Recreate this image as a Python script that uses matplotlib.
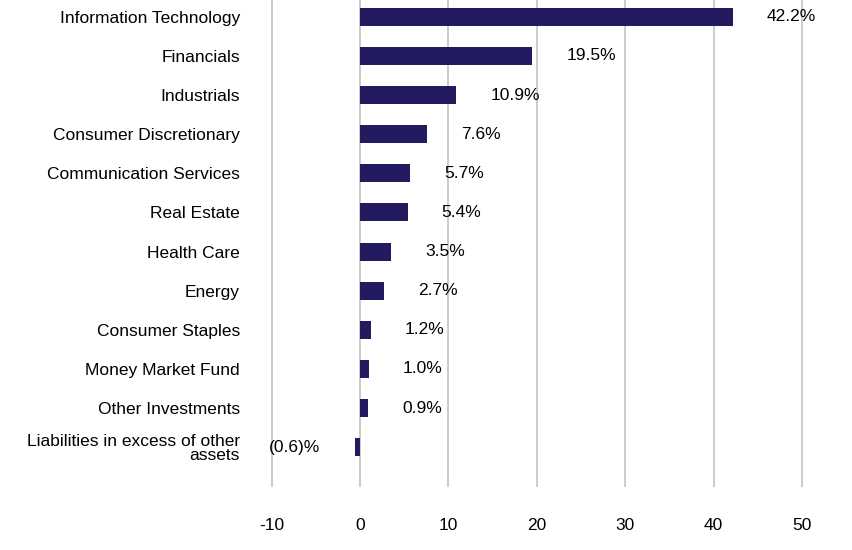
import matplotlib
matplotlib.use("Agg")
import matplotlib.pyplot as plt

categories = ["Information Technology", "Financials", "Industrials", "Consumer Discretionary",
              "Communication Services", "Real Estate", "Health Care", "Energy", "Consumer Staples",
              "Money Market Fund", "Other Investments", "Liabilities in excess of other\nassets"]
values = [42.2, 19.5, 10.9, 7.6, 5.7, 5.4, 3.5, 2.7, 1.2, 1.0, 0.9, -0.6]
labels = ["42.2%", "19.5%", "10.9%", "7.6%", "5.7%", "5.4%", "3.5%", "2.7%", "1.2%", "1.0%", "0.9%", "(0.6)%"]
xticks = [-10, 0, 10, 20, 30, 40, 50]

plt.rcParams['font.family'] = ['Liberation Sans', 'DejaVu Sans']
fig = plt.figure(figsize=(8.52, 5.5), dpi=100)
ax = fig.add_axes([0.298, 0.1145, 0.664, 0.8855])
y = list(range(len(categories)))
ax.barh(y, values, height=0.46, color="#221b5f", zorder=3)
ax.set_xlim(-12, 52)
ax.set_ylim(12.02, -0.43)
ax.set_xticks(xticks)
ax.set_xticklabels([str(t) for t in xticks], fontsize=12.5)
ax.set_yticks(y)
ax.set_yticklabels(categories, fontsize=12.5, linespacing=0.95)
ax.grid(axis='x', color="#c8c8c8", linewidth=1.3, zorder=0)
for s in ax.spines.values():
    s.set_visible(False)
ax.tick_params(length=0, pad=10)
ax.tick_params(axis='x', pad=22)
for yi, v, lab in zip(y, values, labels):
    if v >= 0:
        ax.annotate(lab, (v, yi), xytext=(24.5, 0), textcoords='offset points',
                    ha='left', va='center', fontsize=12.5)
    else:
        ax.annotate(lab, (v, yi), xytext=(-25, 0), textcoords='offset points',
                    ha='right', va='center', fontsize=12.5)
fig.savefig("out.png", dpi=100)
